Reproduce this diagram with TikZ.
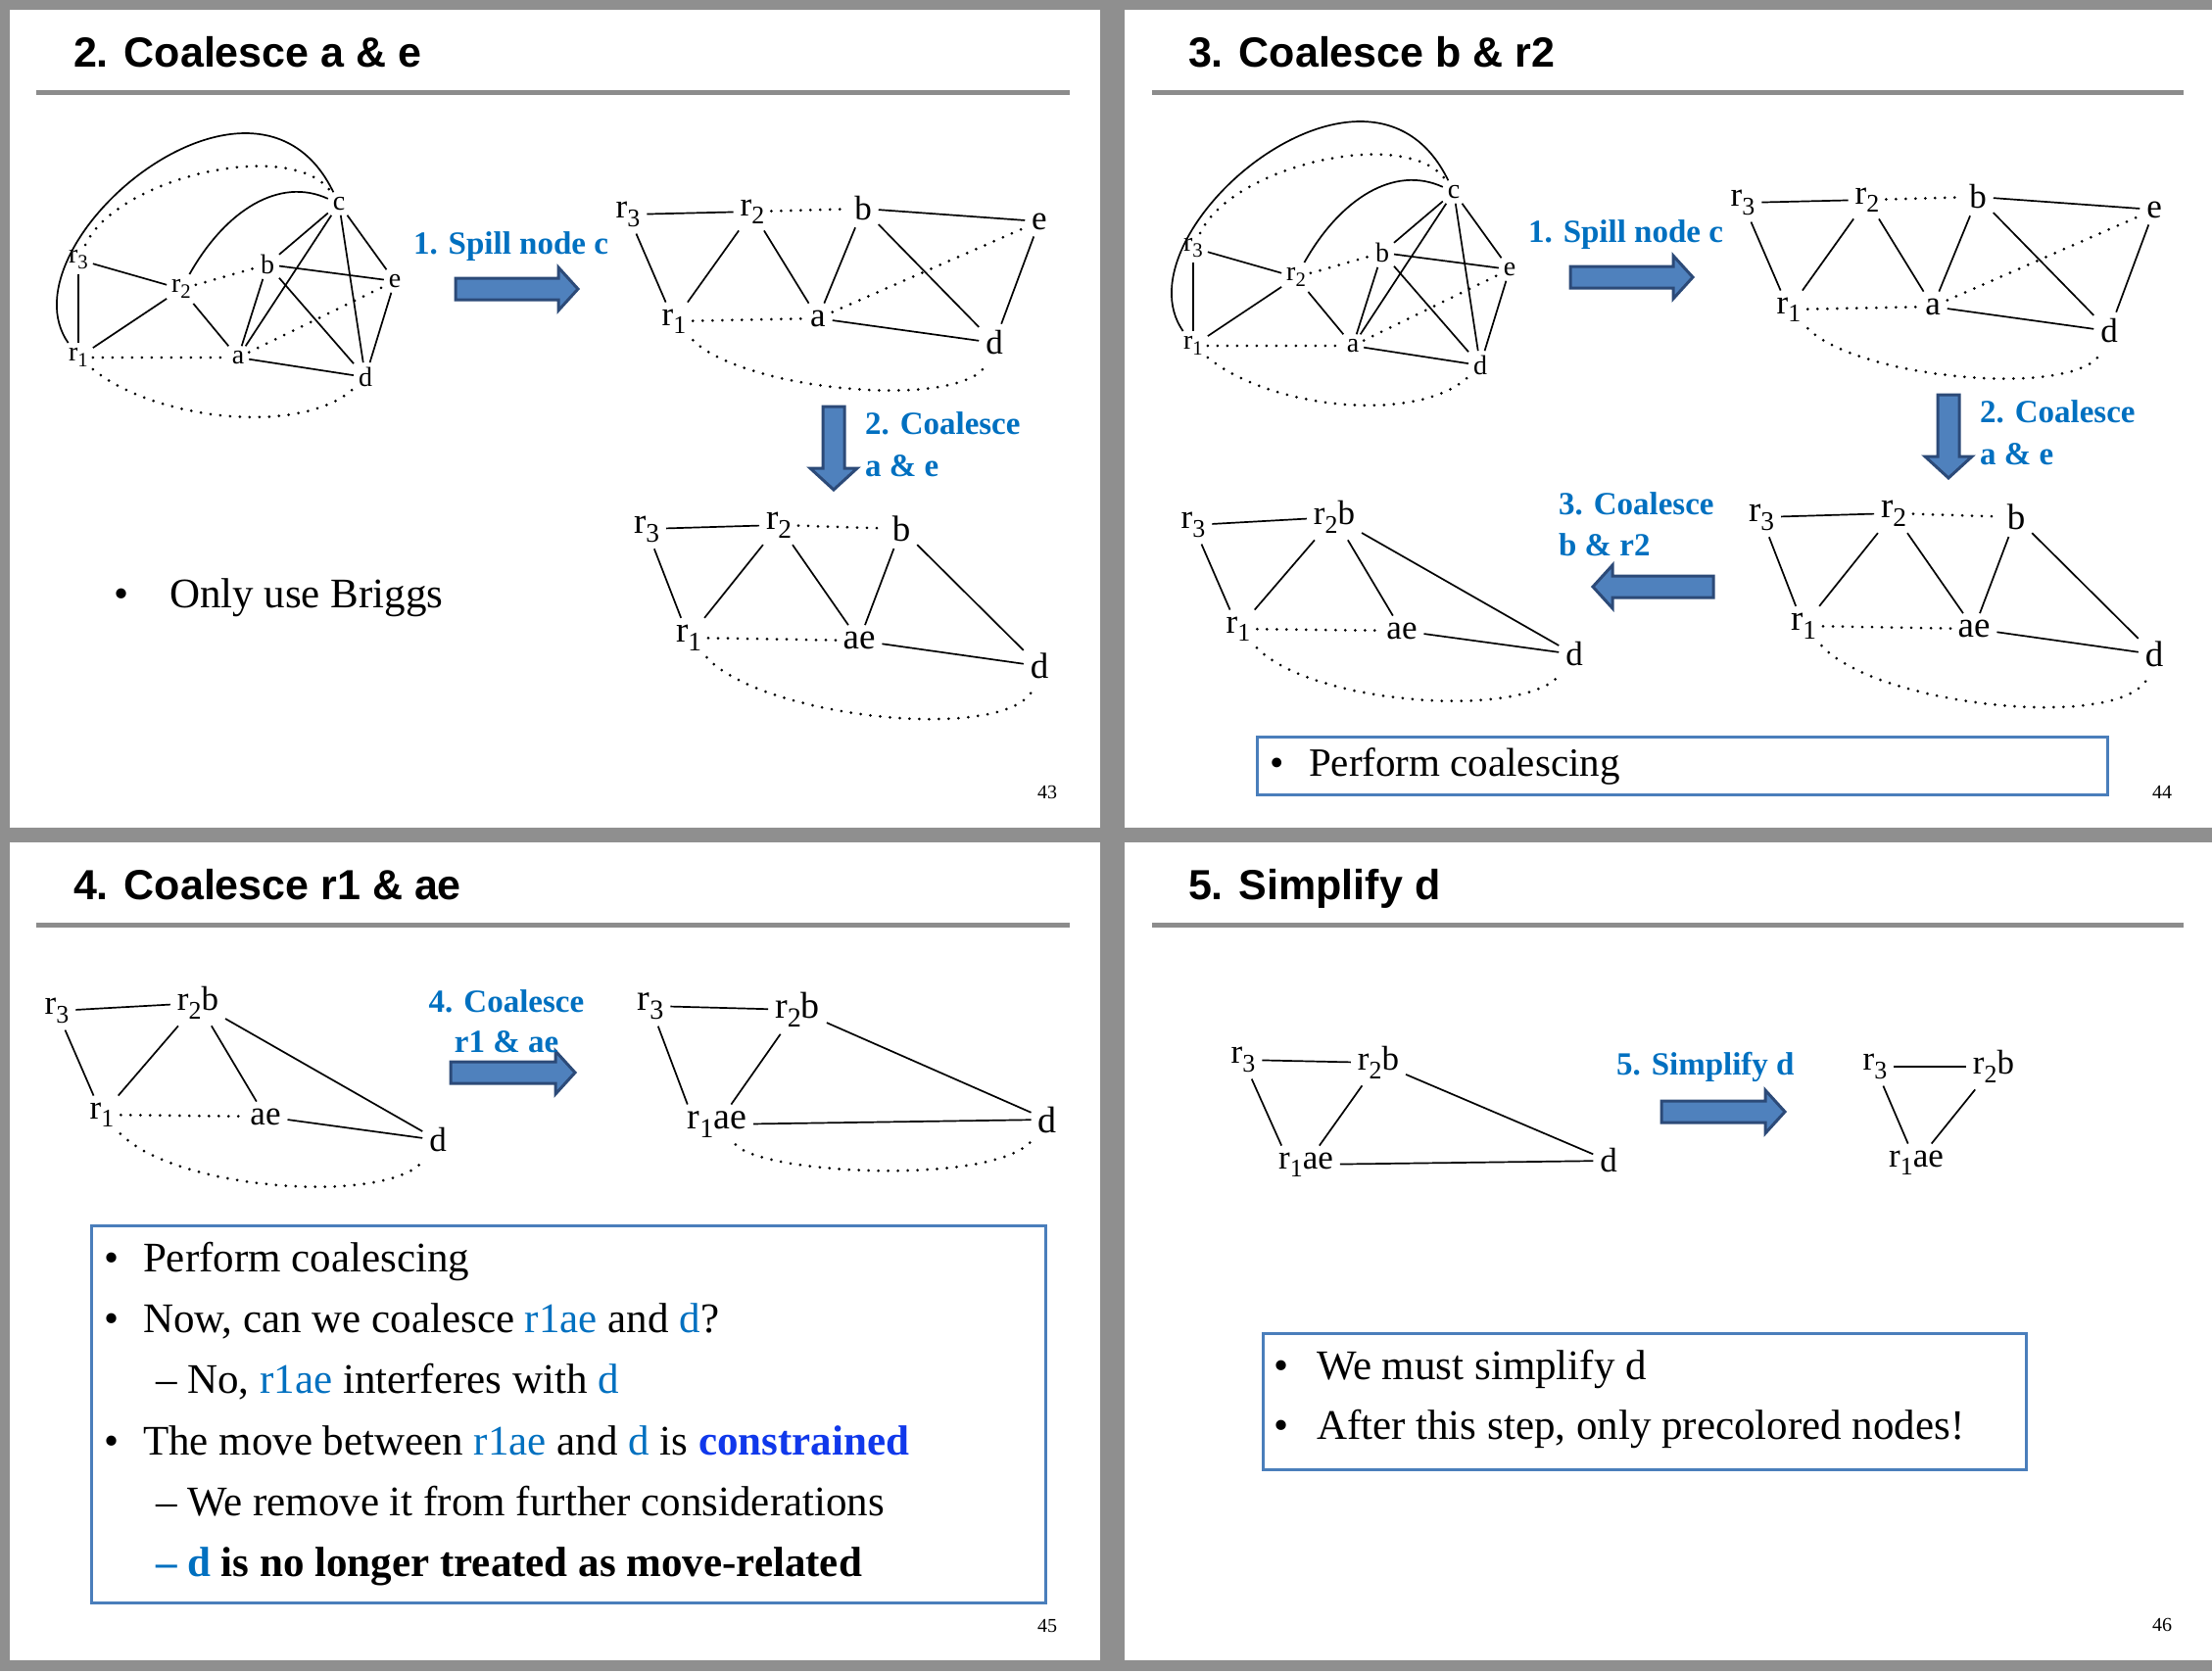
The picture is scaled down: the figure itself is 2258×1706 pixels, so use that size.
\documentclass[tikz,border=0pt]{standalone}
\usepackage{fontspec}
\setmainfont{Liberation Serif}
\newfontfamily\titlefont{Liberation Sans}
\newcommand\sbs[1]{\raisebox{-0.24em}{\scalebox{0.74}{#1}}}
\definecolor{bg}{HTML}{8F8F8F}
\definecolor{rulegray}{HTML}{8C8C8C}
\definecolor{lblue}{HTML}{0070C0}
\definecolor{cblue}{RGB}{16,56,235}
\definecolor{afill}{HTML}{4F81BD}
\definecolor{aborder}{RGB}{44,74,120}
\definecolor{boxblue}{HTML}{4A7EBB}
\tikzset{
 edge/.style={line width=1.7pt, black},
 dotedge/.style={line width=3pt, dash pattern=on 0pt off 10pt, line cap=round, black},
 blockarrow/.style={fill=afill, draw=aborder, line width=3pt, line join=miter},
 vtx/.style={inner sep=7pt, outer sep=0pt},
 gA/.style={vtx, inner sep=5pt, font=\fontsize{28}{30}\selectfont},
 gB/.style={vtx, font=\fontsize{35}{38}\selectfont},
 gC/.style={vtx, font=\fontsize{37}{40}\selectfont},
 gD/.style={vtx, font=\fontsize{35}{38}\selectfont},
 gE/.style={vtx, font=\fontsize{38}{40}\selectfont},
 txt/.style={inner sep=0pt, outer sep=0pt, anchor=base west},
 steplabel/.style={txt, text=lblue, font=\fontsize{33}{40}\selectfont\bfseries},
 slidetitle/.style={txt, font=\titlefont\fontsize{43}{50}\selectfont\bfseries},
 pagenum/.style={inner sep=0pt, anchor=base, font=\fontsize{20}{24}\selectfont},
 bodytext/.style={txt, font=\fontsize{43}{50}\selectfont},
 boxtextA/.style={txt, font=\fontsize{41}{50}\selectfont},
 infobox/.style={draw=boxblue, line width=3pt},
}
% arrows: right (x-left, length, y-centre), left (x-tip, length, y-centre), down (x-centre, y-top, length)
\newcommand\RArrow[3]{\draw[blockarrow] (#1,#3) ++(0,-11) -- ++({#2-20},0) -- ++(0,-11) -- ++(20,22) -- ++(-20,22) -- ++(0,-11) -- ++({-(#2-20)},0) -- cycle;}
\newcommand\LArrow[3]{\draw[blockarrow] (#1,#3) -- ++(20,-22) -- ++(0,11) -- ++({#2-20},0) -- ++(0,22) -- ++({-(#2-20)},0) -- ++(0,11) -- cycle;}
\newcommand\DArrow[3]{\draw[blockarrow] (#1,#2) ++(-11,0) -- ++(0,{#3-22}) -- ++(-13,0) -- ++(24,22) -- ++(24,-22) -- ++(-13,0) -- ++(0,{-(#3-22)}) -- cycle;}
% original graph
\newcommand\GraphOne[1]{%
 \node[gA] (#1c) at (346,208) {c};
 \node[gA] (#1r3) at (80,265) {r\sbs{3}};
 \node[gA] (#1r2) at (185,295) {r\sbs{2}};
 \node[gA] (#1b) at (273,270) {b};
 \node[gA] (#1e) at (403,287) {e};
 \node[gA] (#1r1) at (80,365) {r\sbs{1}};
 \node[gA] (#1a) at (243,365) {a};
 \node[gA] (#1d) at (373,385) {d};
 \draw[edge] (#1r3) -- (#1r1);
 \draw[edge] (#1r3) -- (#1r2);
 \draw[edge] (#1r1) -- (#1r2);
 \draw[edge] (#1r2) -- (#1a);
 \draw[edge] (#1c) -- (#1b);
 \draw[edge] (#1c) -- (#1a);
 \draw[edge] (#1c) -- (#1d);
 \draw[edge] (#1c) -- (#1e);
 \draw[edge] (#1b) -- (#1e);
 \draw[edge] (#1b) -- (#1a);
 \draw[edge] (#1b) -- (#1d);
 \draw[edge] (#1a) -- (#1d);
 \draw[edge] (#1e) -- (#1d);
 \draw[edge] (#1r2) .. controls (230,215) and (285,180) .. (#1c);
 \draw[edge] (#1r1) .. controls (0,250) and (260,30) .. (#1c);
 \draw[dotedge] (#1r3) .. controls (120,180) and (300,140) .. (#1c);
 \draw[dotedge] (#1r2) -- (#1b);
 \draw[dotedge] (#1r1) -- (#1a);
 \draw[dotedge] (#1a) -- (#1e);
 \draw[dotedge] (#1r1) .. controls (160,430) and (310,445) .. (#1d);
}
% after spilling c
\newcommand\GraphTwo[1]{%
 \node[gB] (#1r3) at (641,219) {r\sbs{3}};
 \node[gB] (#1r2) at (768,216) {r\sbs{2}};
 \node[gB] (#1b) at (881,213) {b};
 \node[gB] (#1e) at (1061,226) {e};
 \node[gB] (#1r1) at (688,328) {r\sbs{1}};
 \node[gB] (#1a) at (835,325) {a};
 \node[gB] (#1d) at (1015,350) {d};
 \draw[edge] (#1r3) -- (#1r2);
 \draw[edge] (#1b) -- (#1e);
 \draw[edge] (#1r3) -- (#1r1);
 \draw[edge] (#1r1) -- (#1r2);
 \draw[edge] (#1r2) -- (#1a);
 \draw[edge] (#1b) -- (#1a);
 \draw[edge] (#1b) -- (#1d);
 \draw[edge] (#1e) -- (#1d);
 \draw[edge] (#1a) -- (#1d);
 \draw[dotedge] (#1r2) -- (#1b);
 \draw[dotedge] (#1r1) -- (#1a);
 \draw[dotedge] (#1a) -- (#1e);
 \draw[dotedge] (#1r1) .. controls (760,400) and (990,420) .. (#1d);
}
% after coalescing a & e
\newcommand\GraphThree[1]{%
 \node[gC] (#1r3) at (660,540) {r\sbs{3}};
 \node[gC] (#1r2) at (795,536) {r\sbs{2}};
 \node[gC] (#1b) at (920,540) {b};
 \node[gC] (#1r1) at (703,651) {r\sbs{1}};
 \node[gC] (#1ae) at (877,654) {ae};
 \node[gC] (#1d) at (1061,680) {d};
 \draw[edge] (#1r3) -- (#1r2);
 \draw[edge] (#1r3) -- (#1r1);
 \draw[edge] (#1r1) -- (#1r2);
 \draw[edge] (#1r2) -- (#1ae);
 \draw[edge] (#1b) -- (#1ae);
 \draw[edge] (#1b) -- (#1d);
 \draw[edge] (#1ae) -- (#1d);
 \draw[dotedge] (#1r2) -- (#1b);
 \draw[dotedge] (#1r1) -- (#1ae);
 \draw[dotedge] (#1r1) .. controls (780,735) and (1040,760) .. (#1d);
}
% after coalescing b & r2
\newcommand\GraphFour[1]{%
 \node[gD] (#1r3) at (1218,536) {r\sbs{3}};
 \node[gD] (#1r2b) at (1362,528) {r\sbs{2}b};
 \node[gD] (#1r1) at (1264,642) {r\sbs{1}};
 \node[gD] (#1ae) at (1431,644) {ae};
 \node[gD] (#1d) at (1607,668) {d};
 \draw[edge] (#1r3) -- (#1r2b);
 \draw[edge] (#1r3) -- (#1r1);
 \draw[edge] (#1r1) -- (#1r2b);
 \draw[edge] (#1r2b) -- (#1ae);
 \draw[edge] (#1r2b) -- (#1d);
 \draw[edge] (#1ae) -- (#1d);
 \draw[dotedge] (#1r1) -- (#1ae);
 \draw[dotedge] (#1r1) .. controls (1340,720) and (1560,735) .. (#1d);
}
\newcommand\SlideOneBody[1]{%
 \GraphOne{#1A}
 \RArrow{465}{125}{295}
 \node[steplabel] (#1spill) at (422,259) {1. Spill node c};
 \GraphTwo{#1B}
 \DArrow{851}{415}{85}
 \node[steplabel] (#1coalA) at (883,443) {2. Coalesce};
 \node[steplabel] (#1coalB) at (883,486) {a \& e};
 \GraphThree{#1C}
}
\begin{document}
\begin{tikzpicture}[x=1pt,y=-1pt]
\useasboundingbox (0,0) rectangle (2258,1706);
\fill[bg] (0,0) rectangle (2258,1706);
\fill[white] (10,10) rectangle (1123,845);
\fill[white] (1148,10) rectangle (2258,845);
\fill[white] (10,860) rectangle (1123,1695);
\fill[white] (1148,860) rectangle (2258,1695);
% title rules
\draw[rulegray, line width=4.5pt] (37,94.5) -- (1092,94.5);
\draw[rulegray, line width=4.5pt] (1176,94.5) -- (2229,94.5);
\draw[rulegray, line width=4.5pt] (37,944.5) -- (1092,944.5);
\draw[rulegray, line width=4.5pt] (1176,944.5) -- (2229,944.5);
% titles
\node[slidetitle] (title1) at (75,68) {2. Coalesce a \& e};
\node[slidetitle] (title2) at (1213,68) {3. Coalesce b \& r2};
\node[slidetitle] (title3) at (75,918) {4. Coalesce r1 \& ae};
\node[slidetitle] (title4) at (1213,918) {5. Simplify d};
% page numbers
\node[pagenum] (p43) at (1069,815) {43};
\node[pagenum] (p44) at (2207,815) {44};
\node[pagenum] (p45) at (1069,1666) {45};
\node[pagenum] (p46) at (2207,1665) {46};

% ---------- slide 1 ----------
\SlideOneBody{s}
\node[bodytext] (s1bul) at (116,620) {•};
\node[bodytext] (s1txt) at (173,620) {Only use Briggs};

% ---------- slide 2 ----------
\begin{scope}[shift={(1138,-12)}]
\SlideOneBody{t}
\end{scope}
\GraphFour{tD}
\LArrow{1626}{123}{599}
\node[steplabel] (tcoalA) at (1591,525) {3. Coalesce};
\node[steplabel] (tcoalB) at (1591,567) {b \& r2};
\draw[infobox] (1283,752) rectangle (2151,811);
\node[boxtextA] (t2bul) at (1296,792) {•};
\node[boxtextA] (t2txt) at (1336,792) {Perform coalescing};

% ---------- slide 3 ----------
\begin{scope}[shift={(-1160,496)}]
\GraphFour{uD}
\end{scope}
\RArrow{460}{127}{1095}
\node[steplabel, anchor=base] (ucoalA) at (517,1033) {4. Coalesce};
\node[steplabel, anchor=base] (ucoalB) at (517,1074) {r1 \& ae};
\node[gE] (uEr3) at (664,1027) {r\sbs{3}};
\node[gE] (uEr2b) at (814,1031) {r\sbs{2}b};
\node[gE] (uEr1ae) at (732,1148) {r\sbs{1}ae};
\node[gE] (uEd) at (1069,1143) {d};
\draw[edge] (uEr3) -- ([xshift=7pt]uEr1ae.north west);
\draw[edge] (uEr3) -- (uEr2b);
\draw[edge] (uEr2b) -- (uEr1ae);
\draw[edge] (uEr2b) -- (uEd);
\draw[edge] (uEr1ae) -- (uEd);
\draw[dotedge] (uEr1ae) .. controls (780,1200) and (1020,1210) .. (uEd);
\draw[infobox] (93,1251) rectangle (1067,1636);
\node[bodytext] (u1b) at (106,1298) {•};
\node[bodytext] (u1t) at (146,1298) {Perform coalescing};
\node[bodytext] (u2b) at (106,1360) {•};
\node[bodytext] (u2t) at (146,1360) {Now, can we coalesce \textcolor{lblue}{r1ae} and \textcolor{lblue}{d}?};
\node[bodytext] (u3t) at (159,1422) {– No, \textcolor{lblue}{r1ae} interferes with \textcolor{lblue}{d}};
\node[bodytext] (u4b) at (106,1485) {•};
\node[bodytext] (u4t) at (146,1485) {The move between \textcolor{lblue}{r1ae} and \textcolor{lblue}{d} is \textcolor{cblue}{\bfseries constrained}};
\node[bodytext] (u5t) at (159,1547) {– We remove it from further considerations};
\node[bodytext] (u6t) at (159,1609) {\bfseries\textcolor{lblue}{– d} is no longer treated as move-related};

% ---------- slide 4 ----------
\node[gD] (vr3) at (1269,1082) {r\sbs{3}};
\node[gD] (vr2b) at (1407,1085) {r\sbs{2}b};
\node[gD] (vr1ae) at (1333,1189) {r\sbs{1}ae};
\node[gD] (vd) at (1642,1185) {d};
\draw[edge] (vr3) -- (vr2b);
\draw[edge] (vr3) -- ([xshift=10pt]vr1ae.north west);
\draw[edge] (vr2b) -- (vr1ae);
\draw[edge] (vr2b) -- (vd);
\draw[edge] (vr1ae) -- (vd);
\RArrow{1696}{126}{1135}
\node[steplabel] (vsimp) at (1650,1097) {5. Simplify d};
\node[gD] (wr3) at (1914,1089) {r\sbs{3}};
\node[gD] (wr2b) at (2035,1089) {r\sbs{2}b};
\node[gD] (wr1ae) at (1956,1187) {r\sbs{1}ae};
\draw[edge] (wr3) -- (wr2b);
\draw[edge] (wr3) -- (wr1ae);
\draw[edge] (wr2b) -- (wr1ae);
\draw[infobox] (1289,1361) rectangle (2068,1500);
\node[bodytext] (v1b) at (1300,1408) {•};
\node[bodytext] (v1t) at (1344,1408) {We must simplify d};
\node[bodytext] (v2b) at (1300,1469) {•};
\node[bodytext] (v2t) at (1344,1469) {After this step, only precolored nodes!};
\end{tikzpicture}
\end{document}
